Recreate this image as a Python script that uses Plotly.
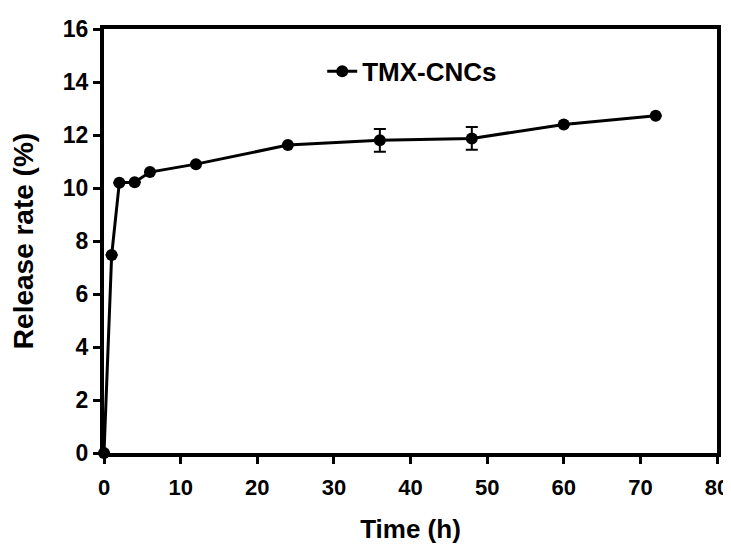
import plotly.graph_objects as go

time_h = [0, 1, 2, 4, 6, 12, 24, 36, 48, 60, 72]
release_rate = [0, 7.47, 10.2, 10.22, 10.6, 10.9, 11.62, 11.8, 11.87, 12.4, 12.73]
release_err = [None, None, None, None, None, None, None, 0.43, 0.43, None, None]
series_name = "TMX-CNCs"
x_ticks = [0, 10, 20, 30, 40, 50, 60, 70, 80]
y_ticks = [0, 2, 4, 6, 8, 10, 12, 14, 16]

FONT = "Liberation Sans, Arial, sans-serif"

fig = go.Figure()
fig.add_trace(go.Scatter(
    x=time_h, y=release_rate, name=series_name, mode="lines+markers",
    line=dict(color="black", width=3),
    marker=dict(color="black", size=12, symbol="circle"),
    error_y=dict(type="data", array=release_err, visible=True,
                 color="black", thickness=2, width=6),
    cliponaxis=False,
))

axis_common = dict(
    showline=True, linecolor="black", linewidth=4, mirror=True,
    showgrid=False, zeroline=False, automargin=False,
    ticks="outside", ticklen=7, tickwidth=3, tickcolor="black",
)

fig.update_layout(
    width=723, height=539,
    paper_bgcolor="white", plot_bgcolor="white",
    margin=dict(l=96, r=14, t=21, b=94),
    showlegend=True,
    legend=dict(x=0.356, y=0.90, xanchor="left", yanchor="middle",
                bgcolor="rgba(0,0,0,0)",
                font=dict(family=FONT, size=26, color="black", weight="bold")),
    xaxis=dict(range=[0, 80], tickvals=x_ticks, ticklabelstandoff=5,
               tickfont=dict(family=FONT, size=22, color="black", weight="bold"),
               title=dict(text="Time (h)", standoff=21,
                          font=dict(family=FONT, size=26, color="black", weight="bold")),
               **axis_common),
    yaxis=dict(range=[0, 16], tickvals=y_ticks,
               tickfont=dict(family=FONT, size=23, color="black", weight="bold"),
               title=dict(text="Release rate (%)", standoff=23,
                          font=dict(family=FONT, size=28, color="black", weight="bold")),
               **axis_common),
)

fig.write_html("out.html")
